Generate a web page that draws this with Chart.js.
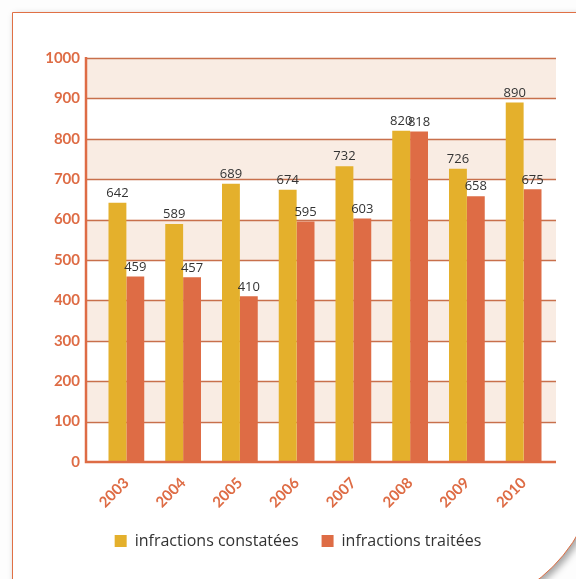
<!DOCTYPE html>
<html>
<head>
<meta charset="utf-8">
<script src="https://cdn.jsdelivr.net/npm/chart.js@4.4.1/dist/chart.umd.min.js"></script>
<style>
  html, body { margin: 0; padding: 0; background: #fdfdfd; overflow: hidden; }
  #frame {
    position: absolute; left: 12px; top: 12px; width: 586px; height: 600px;
    background: #fff; border: 1.5px solid #e07045;
    border-bottom-right-radius: 160px;
    box-shadow: 3px 3px 7px rgba(0,0,0,0.35);
  }
  #chart { position: absolute; left: 0; top: 0; }
</style>
</head>
<body>
<div id="frame"></div>
<canvas id="chart" width="576" height="579"></canvas>
<script>
const years = ["2003", "2004", "2005", "2006", "2007", "2008", "2009", "2010"];
const constatees = [642, 589, 689, 674, 732, 820, 726, 890];
const traitees = [459, 457, 410, 595, 603, 818, 658, 675];
const seriesNames = ["infractions constatées", "infractions traitées"];

const orange = "#de6c45";
const yellow = "#e4b02c";
const band = "#f9ece3";
const gridColor = "#c8704c";

// alternating bands, grid lines and axis lines, wider than the bar area
const backdrop = {
  id: "backdrop",
  beforeDatasetsDraw(chart) {
    const { ctx, scales: { y } } = chart;
    const x0 = 86, x1 = 556;
    ctx.save();
    ctx.fillStyle = band;
    for (let v = 100; v < 1000; v += 200) {
      const top = y.getPixelForValue(v + 100);
      const bot = y.getPixelForValue(v);
      ctx.fillRect(x0, top, x1 - x0, bot - top);
    }
    ctx.strokeStyle = gridColor;
    ctx.lineWidth = 1.5;
    for (let v = 100; v <= 1000; v += 100) {
      const py = Math.round(y.getPixelForValue(v)) + 0.5;
      ctx.beginPath();
      ctx.moveTo(x0, py);
      ctx.lineTo(x1, py);
      ctx.stroke();
    }
    ctx.restore();
  },
  afterDatasetsDraw(chart) {
    const { ctx, scales: { y } } = chart;
    const top = y.getPixelForValue(1000);
    const bot = y.getPixelForValue(0);
    ctx.save();
    ctx.strokeStyle = orange;
    ctx.lineWidth = 2.5;
    ctx.beginPath();
    ctx.moveTo(86, top - 1);
    ctx.lineTo(86, bot);
    ctx.lineTo(556, bot);
    ctx.stroke();
    ctx.restore();
  }
};

// value printed above each bar
const valueLabels = {
  id: "valueLabels",
  afterDatasetsDraw(chart) {
    const { ctx } = chart;
    ctx.save();
    ctx.fillStyle = "#333";
    ctx.font = "13px 'Open Sans'";
    ctx.textAlign = "center";
    ctx.textBaseline = "bottom";
    chart.data.datasets.forEach((ds, i) => {
      chart.getDatasetMeta(i).data.forEach((bar, j) => {
        ctx.fillText(ds.data[j], bar.x, bar.y - 3);
      });
    });
    ctx.restore();
  }
};

new Chart(document.getElementById("chart"), {
  type: "bar",
  data: {
    labels: years,
    datasets: [
      { label: seriesNames[0], data: constatees, backgroundColor: yellow },
      { label: seriesNames[1], data: traitees, backgroundColor: orange }
    ]
  },
  options: {
    responsive: false,
    animation: false,
    devicePixelRatio: 1,
    categoryPercentage: 0.63,
    barPercentage: 1.0,
    layout: { padding: { left: 44, right: 24, top: 58, bottom: 20 } },
    scales: {
      x: {
        grid: { display: false },
        border: { display: false },
        ticks: {
          color: orange,
          font: { family: "Lato", weight: "bold", size: 15 },
          minRotation: 45, maxRotation: 45,
          padding: 4
        },
        afterFit(scale) { scale.height = 48; }
      },
      y: {
        min: 0, max: 1000,
        grid: { display: false },
        border: { display: false },
        ticks: {
          stepSize: 100,
          color: orange,
          font: { family: "Lato", weight: "bold", size: 15 },
          padding: 10,
          callback: (v) => String(v)
        },
        afterFit(scale) { scale.width = 54; }
      }
    },
    plugins: {
      legend: {
        position: "bottom",
        labels: {
          color: "#333",
          font: { family: "Open Sans", size: 16 },
          boxWidth: 12, boxHeight: 12,
          padding: 23
        }
      },
      tooltip: { enabled: false }
    }
  },
  plugins: [backdrop, valueLabels]
});
</script>
</body>
</html>
